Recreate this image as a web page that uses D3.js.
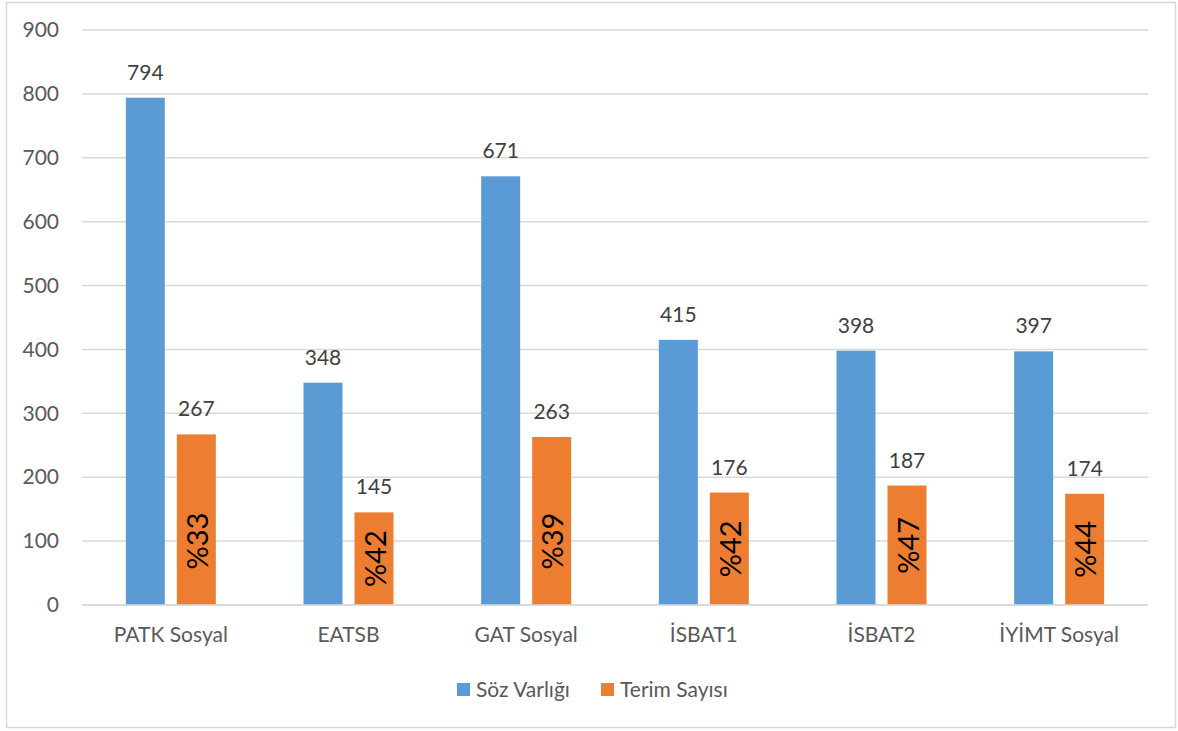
<!DOCTYPE html>
<html>
<head>
<meta charset="utf-8">
<script src="https://cdn.jsdelivr.net/npm/d3@7"></script>
<style>
  html, body { margin: 0; padding: 0; background: #fff; }
  svg text { font-family: Lato, "Open Sans", sans-serif; }
</style>
</head>
<body>
<svg id="chart" width="1178" height="731"></svg>
<script>
// Kaynak eserlerin söz varlığı ve terim sayıları
const categories = ["PATK Sosyal", "EATSB", "GAT Sosyal", "İSBAT1", "İSBAT2", "İYİMT Sosyal"];
const sozVarligi = [794, 348, 671, 415, 398, 397];
const terimSayisi = [267, 145, 263, 176, 187, 174];
const terimOrani = ["%33", "%42", "%39", "%42", "%47", "%44"];
const seriesNames = ["Söz Varlığı", "Terim Sayısı"];
const yTicks = [0, 100, 200, 300, 400, 500, 600, 700, 800, 900];

const colors = ["#5b9bd5", "#ed7d31"];
const textGray = "#595959";
const fontSize = "21px";

const svg = d3.select("#chart");
const plot = { left: 82, right: 1148, top: 30, bottom: 605 };

// chart frame
svg.append("rect")
  .attr("x", 6.5).attr("y", 2.5)
  .attr("width", 1169).attr("height", 725)
  .attr("fill", "#fff").attr("stroke", "#d9d9d9").attr("stroke-width", 1.5);

const x0 = d3.scaleBand().domain(categories).range([plot.left, plot.right]).paddingInner(0).paddingOuter(0);
const y = d3.scaleLinear().domain([0, 900]).range([plot.bottom, plot.top]);

const barW = 39, gap = 12;
const offsets = [-(gap / 2 + barW), gap / 2];

// gridlines
svg.append("g").selectAll("line").data(yTicks).join("line")
  .attr("x1", plot.left).attr("x2", plot.right)
  .attr("y1", d => y(d)).attr("y2", d => y(d))
  .attr("stroke", "#d9d9d9").attr("stroke-width", 1.5);

// y axis labels
const yAxis = d3.axisLeft(y).tickValues(yTicks).tickSize(0).tickPadding(23);
const yg = svg.append("g").attr("transform", `translate(${plot.left},0)`).call(yAxis);
yg.select(".domain").remove();
yg.selectAll("text")
  .attr("fill", textGray).style("font-size", fontSize)
  .style("font-family", "Lato, 'Open Sans', sans-serif");

// bars with value labels
const series = [sozVarligi, terimSayisi];
series.forEach((vals, s) => {
  const g = svg.append("g");
  g.selectAll("rect").data(vals).join("rect")
    .attr("x", (d, i) => x0(categories[i]) + x0.bandwidth() / 2 + offsets[s])
    .attr("y", d => y(d))
    .attr("width", barW)
    .attr("height", d => y(0) - y(d))
    .attr("fill", colors[s]);
  g.selectAll("text").data(vals).join("text")
    .attr("x", (d, i) => x0(categories[i]) + x0.bandwidth() / 2 + offsets[s] + barW / 2)
    .attr("y", d => y(d) - 18)
    .attr("text-anchor", "middle")
    .attr("fill", "#404040").style("font-size", fontSize)
    .text(d => d);
});

// x axis baseline
svg.append("line")
  .attr("x1", plot.left).attr("x2", plot.right)
  .attr("y1", y(0)).attr("y2", y(0))
  .attr("stroke", "#d9d9d9").attr("stroke-width", 1.5);

// percentage labels inside the orange bars
svg.append("g").selectAll("text").data(terimSayisi).join("text")
  .attr("transform", (d, i) => {
    const cx = x0(categories[i]) + x0.bandwidth() / 2 + offsets[1] + barW / 2;
    const cy = y(Math.min(d, 200) / 2);
    return `translate(${cx},${cy}) rotate(-90)`;
  })
  .attr("text-anchor", "middle")
  .attr("dominant-baseline", "central")
  .attr("fill", "#000").style("font-size", "29px")
  .text((d, i) => terimOrani[i]);

// category labels
const xAxis = d3.axisBottom(x0).tickSize(0).tickPadding(22);
const xg = svg.append("g").attr("transform", `translate(0,${plot.bottom})`).call(xAxis);
xg.select(".domain").remove();
xg.selectAll("text")
  .attr("fill", textGray).style("font-size", fontSize)
  .style("font-family", "Lato, 'Open Sans', sans-serif");

// legend
const legend = svg.append("g");
const legendX = [457, 601];
seriesNames.forEach((name, s) => {
  legend.append("rect")
    .attr("x", legendX[s]).attr("y", 683)
    .attr("width", 13).attr("height", 13)
    .attr("fill", colors[s]);
  legend.append("text")
    .attr("x", legendX[s] + 19).attr("y", 697)
    .attr("fill", textGray).style("font-size", fontSize)
    .text(name);
});
</script>
</body>
</html>
